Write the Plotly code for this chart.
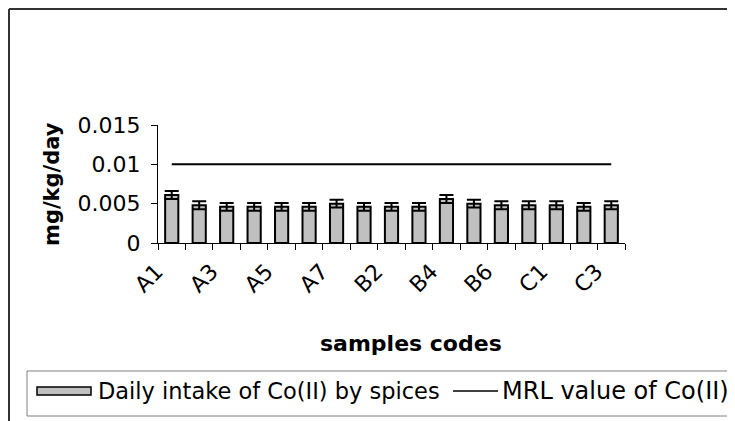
import plotly.graph_objects as go

# ---- data ----
categories = ["A1", "A2", "A3", "A4", "A5", "A6", "A7",
              "B1", "B2", "B3", "B4", "B5", "B6", "B7",
              "C1", "C2", "C3"]
daily_intake = [0.0061, 0.0048, 0.0046, 0.0046, 0.0046, 0.0046, 0.0050,
                0.0046, 0.0046, 0.0046, 0.0056, 0.0050, 0.0048, 0.0048,
                0.0048, 0.0046, 0.0048]
intake_error = [0.0005] * 17
mrl_value = [0.01] * 17
shown_labels = ["A1", "A3", "A5", "A7", "B2", "B4", "B6", "C1", "C3"]
y_ticks = [0, 0.005, 0.01, 0.015]
y_ticktext = ["0", "0.005", "0.01", "0.015"]
bar_name = "Daily intake of Co(II) by spices"
line_name = "MRL value of Co(II)"

# ---- layout geometry (page pixels; the page body adds an 8px margin) ----
OFF = 8
W, H = 735 - OFF, 421 - OFF
PL, PR, PT, PB = 158, 625, 125, 243          # plot area in page pixels
L, T = PL - OFF, PT - OFF
R, B = W - (PR - OFF), H - (PB - OFF)
PW, PH = W - L - R, H - T - B
XMAX = OFF + W + 20     # beyond the visible page
YMAX = OFF + H + 20


def px(x):
    return (x - OFF - L) / PW


def py(y):
    return ((H - B) - (y - OFF)) / PH


def seg(x0, y0, x1, y1, color, width):
    return dict(type="line", xref="paper", yref="paper",
                x0=px(x0), y0=py(y0), x1=px(x1), y1=py(y1),
                line=dict(color=color, width=width))


FONT = "DejaVu Sans"

fig = go.Figure()
fig.add_trace(go.Bar(
    x=categories, y=daily_intake, name=bar_name,
    marker=dict(color="#C0C0C0", line=dict(color="black", width=2)),
    error_y=dict(type="data", array=intake_error, visible=True,
                 color="black", thickness=2, width=7),
    showlegend=False,
))
fig.add_trace(go.Scatter(
    x=categories, y=mrl_value, name=line_name, mode="lines",
    line=dict(color="black", width=2), showlegend=False,
))

ticktext = [c if c in shown_labels else "" for c in categories]

fig.update_layout(
    width=W, height=H,
    margin=dict(l=L, r=R, t=T, b=B),
    paper_bgcolor="white", plot_bgcolor="white",
    font=dict(family=FONT, size=22, color="black"),
    bargap=0.52,
    xaxis=dict(
        type="category", tickmode="array", tickvals=categories, ticktext=ticktext,
        tickangle=-45, tickson="boundaries", ticks="outside", ticklen=6,
        tickcolor="black", showline=True, linecolor="black", linewidth=1,
        showgrid=False, zeroline=False, range=[-0.5, 16.5],
        ticklabelstandoff=6, ticklabelshift=-15,
        tickfont=dict(size=22),
    ),
    yaxis=dict(
        range=[0, 0.015], tickmode="array", tickvals=y_ticks, ticktext=y_ticktext,
        ticks="outside", ticklen=6, tickcolor="black", showline=True,
        linecolor="black", linewidth=1, showgrid=False, zeroline=False,
        ticklabelstandoff=6, tickfont=dict(size=22),
    ),
    showlegend=False,
)

shapes = [
    # outer chart border: left and top edges (others lie outside the picture)
    seg(9, 9, 9, YMAX, "#333333", 2),
    seg(9, 9, XMAX, 9, "#333333", 2),
    # legend box: top, left, bottom edges
    seg(27, 371, XMAX, 371, "#808080", 1),
    seg(27, 371, 27, 416, "#808080", 1),
    seg(27, 416, XMAX, 416, "#808080", 1),
    # legend sample for line
    seg(453, 391, 498, 391, "black", 1.5),
]
# legend swatch for bars
shapes.append(dict(type="rect", xref="paper", yref="paper",
                   x0=px(37), x1=px(91), y0=py(387), y1=py(395),
                   fillcolor="#C0C0C0", line=dict(color="black", width=1.5)))

annotations = [
    dict(text=bar_name, xref="paper", yref="paper", x=px(96), y=py(391),
         xanchor="left", yanchor="middle", showarrow=False,
         font=dict(family=FONT, size=22.5, color="black")),
    dict(text=line_name, xref="paper", yref="paper", x=px(500), y=py(391),
         xanchor="left", yanchor="middle", showarrow=False,
         font=dict(family=FONT, size=24, color="black")),
    dict(text="<b>samples codes</b>", xref="paper", yref="paper", x=px(411), y=py(343),
         xanchor="center", yanchor="middle", showarrow=False,
         font=dict(family=FONT, size=22, color="black")),
    dict(text="<b>mg/kg/day</b>", xref="paper", yref="paper", x=px(52), y=py(184),
         xanchor="center", yanchor="middle", showarrow=False, textangle=-90,
         font=dict(family=FONT, size=21, color="black")),
]
fig.update_layout(shapes=shapes, annotations=annotations)

fig.write_html("out.html",
               post_script="document.documentElement.style.overflow='hidden';"
                           "document.body.style.overflow='hidden';")
